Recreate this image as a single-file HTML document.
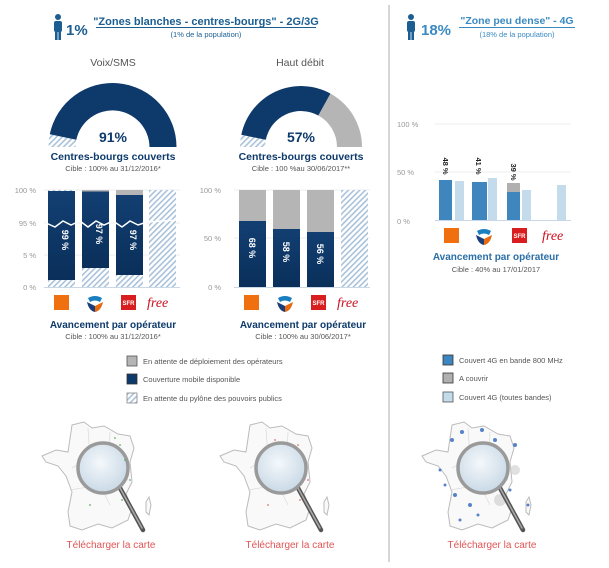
<!DOCTYPE html>
<html><head><meta charset="utf-8"><style>
html,body{margin:0;padding:0;background:#fff;}
svg{display:block;font-family:"Liberation Sans",sans-serif;}
</style></head><body>
<svg width="609" height="568" viewBox="0 0 609 568" xmlns="http://www.w3.org/2000/svg">
<defs>
<pattern id="h" width="4" height="4" patternUnits="userSpaceOnUse" patternTransform="rotate(45)">
<rect width="4" height="4" fill="#fff"/><rect width="1.6" height="4" fill="#a9c2da"/>
</pattern>
<linearGradient id="db" x1="0" y1="0" x2="0" y2="1"><stop offset="0" stop-color="#123f72"/><stop offset="1" stop-color="#0a2f5a"/></linearGradient>
<radialGradient id="lens" cx="0.45" cy="0.4" r="0.6"><stop offset="0" stop-color="#f4f8fb"/><stop offset="1" stop-color="#c9d9e6"/></radialGradient>
</defs>

<line x1="389" y1="5" x2="389" y2="562" stroke="#c8c8c8" stroke-width="1.5"/>

<g fill="#1a5e92">
<circle cx="58" cy="17" r="3"/><rect x="54" y="21" width="8" height="11" rx="2"/><rect x="55" y="30" width="2.6" height="10"/><rect x="58.4" y="30" width="2.6" height="10"/>
<circle cx="411" cy="17" r="3"/><rect x="407" y="21" width="8" height="11" rx="2"/><rect x="408" y="30" width="2.6" height="10"/><rect x="411.4" y="30" width="2.6" height="10"/>
</g>
<text x="66" y="35" font-size="15" font-weight="bold" fill="#1a5e92">1%</text>
<text x="206" y="25" font-size="11" font-weight="bold" fill="#1a5e92" text-anchor="middle">"Zones blanches - centres-bourgs" - 2G/3G</text>
<line x1="96" y1="27.5" x2="316" y2="27.5" stroke="#1a5e92" stroke-width="1"/>
<text x="206" y="37" font-size="7.5" fill="#1a5e92" text-anchor="middle">(1% de la population)</text>

<text x="421" y="35" font-size="15" font-weight="bold" fill="#3a8ac2">18%</text>
<text x="517" y="24" font-size="10.5" font-weight="bold" fill="#3a8ac2" text-anchor="middle">"Zone peu dense" - 4G</text>
<line x1="459" y1="27.5" x2="575" y2="27.5" stroke="#3a8ac2" stroke-width="1"/>
<text x="517" y="37" font-size="7.5" fill="#3a8ac2" text-anchor="middle">(18% de la population)</text>

<text x="113" y="66" font-size="10.5" fill="#555" text-anchor="middle">Voix/SMS</text>
<text x="300" y="66" font-size="10.5" fill="#555" text-anchor="middle">Haut débit</text>

<path d="M48.5 147 A64 64 0 0 1 49.8 134.2 L76.3 139.8 A37 37 0 0 0 75.5 147 Z" fill="url(#h)"/>
<path d="M49.8 134.2 A64 64 0 0 1 176.5 147 L149.5 147 A37 37 0 0 0 76.3 139.8 Z" fill="#0d3a6b"/>
<text x="113" y="142" font-size="14" font-weight="bold" fill="#0d3a6b" text-anchor="middle">91%</text>
<text x="113" y="160" font-size="10.5" font-weight="bold" fill="#0d3a6b" text-anchor="middle">Centres-bourgs couverts</text>
<text x="113" y="171" font-size="7.5" fill="#555" text-anchor="middle">Cible : 100% au 31/12/2016*</text>

<path d="M240 147 A61 61 0 0 1 241.3 134.8 L265.8 139.8 A36 36 0 0 0 265 147 Z" fill="url(#h)"/>
<path d="M241.3 134.8 A61 61 0 0 1 330.5 93.6 L318.4 115.5 A36 36 0 0 0 265.8 139.8 Z" fill="#0d3a6b"/>
<path d="M330.5 93.6 A61 61 0 0 1 362 147 L337 147 A36 36 0 0 0 318.4 115.5 Z" fill="#b5b5b5"/>
<text x="301" y="142" font-size="14" font-weight="bold" fill="#0d3a6b" text-anchor="middle">57%</text>
<text x="301" y="160" font-size="10.5" font-weight="bold" fill="#0d3a6b" text-anchor="middle">Centres-bourgs couverts</text>
<text x="301" y="171" font-size="7.5" fill="#555" text-anchor="middle">Cible : 100 %au 30/06/2017**</text>

<g font-size="7.5" fill="#999" text-anchor="end">
<text x="36" y="193">100 %</text><text x="36" y="226">95 %</text><text x="36" y="258">5 %</text><text x="36" y="290">0 %</text>
</g>
<g stroke="#eee"><line x1="44" y1="190" x2="180" y2="190"/><line x1="44" y1="223" x2="180" y2="223"/><line x1="44" y1="255" x2="180" y2="255"/></g>
<rect x="48" y="190" width="27" height="97" fill="url(#h)"/><rect x="48" y="191" width="27" height="89" fill="url(#db)"/>
<rect x="82" y="190" width="27" height="97" fill="url(#h)"/><rect x="82" y="190" width="27" height="1.5" fill="#b5b5b5"/><rect x="82" y="191.5" width="27" height="76.5" fill="url(#db)"/>
<rect x="116" y="190" width="27" height="97" fill="url(#h)"/><rect x="116" y="190" width="27" height="5" fill="#b5b5b5"/><rect x="116" y="195" width="27" height="80" fill="url(#db)"/>
<rect x="149" y="190" width="27" height="97" fill="url(#h)"/>
<polyline points="46,223 55,227 63,221 71,225 80,221 88,227 96,221 104,225 113,221 122,227 130,221 138,225 147,222 178,220" fill="none" stroke="#fff" stroke-width="1.5"/>
<g font-size="9" font-weight="bold" fill="#fff" text-anchor="middle">
<text transform="translate(62,240) rotate(90)">99 %</text>
<text transform="translate(96,234) rotate(90)">97 %</text>
<text transform="translate(130,240) rotate(90)">97 %</text>
</g>
<line x1="44" y1="287.5" x2="180" y2="287.5" stroke="#c9d8e6"/>

<g font-size="7.5" fill="#999" text-anchor="end">
<text x="221" y="193">100 %</text><text x="221" y="241">50 %</text><text x="221" y="290">0 %</text>
</g>
<g stroke="#eee"><line x1="234" y1="190" x2="370" y2="190"/><line x1="234" y1="238" x2="370" y2="238"/></g>
<rect x="239" y="190" width="27" height="97" fill="#b5b5b5"/><rect x="239" y="221" width="27" height="66" fill="url(#db)"/>
<rect x="273" y="190" width="27" height="97" fill="#b5b5b5"/><rect x="273" y="229" width="27" height="58" fill="url(#db)"/>
<rect x="307" y="190" width="27" height="97" fill="#b5b5b5"/><rect x="307" y="232" width="27" height="55" fill="url(#db)"/>
<rect x="341" y="190" width="27" height="97" fill="url(#h)"/>
<g font-size="9" font-weight="bold" fill="#fff" text-anchor="middle">
<text transform="translate(249,248) rotate(90)">68 %</text>
<text transform="translate(283,252) rotate(90)">58 %</text>
<text transform="translate(317,254) rotate(90)">56 %</text>
</g>
<line x1="234" y1="287.5" x2="370" y2="287.5" stroke="#c9d8e6"/>

<g id="logos">
<rect x="54" y="295" width="15" height="15" fill="#f07010"/>
<path d="M88 298 q7 -4 14 0 l-2 4 q-5 -3 -10 0z" fill="#1a7fc0"/><path d="M87 302 q2 9 8 10 l0-6z" fill="#1a3e7a"/><path d="M103 302 q-2 9 -8 10 l0-6z" fill="#e86a10"/>
<rect x="121" y="295" width="15" height="15" fill="#d81e1e"/><text x="128.5" y="305" font-size="6" font-weight="bold" fill="#fff" text-anchor="middle">SFR</text>
<text x="147" y="307" font-size="14" font-style="italic" fill="#cc1020" font-family="Liberation Serif,serif">free</text>
</g>
<use href="#logos" transform="translate(190,0)"/>
<text x="113" y="328" font-size="10" font-weight="bold" fill="#0d3a6b" text-anchor="middle">Avancement par opérateur</text>
<text x="113" y="339" font-size="7.5" fill="#555" text-anchor="middle">Cible : 100% au 31/12/2016*</text>
<text x="303" y="328" font-size="10" font-weight="bold" fill="#0d3a6b" text-anchor="middle">Avancement par opérateur</text>
<text x="303" y="339" font-size="7.5" fill="#555" text-anchor="middle">Cible : 100% au 30/06/2017*</text>

<rect x="127" y="356" width="10" height="10" fill="#b5b5b5" stroke="#555" stroke-width="0.8"/>
<rect x="127" y="374" width="10" height="10" fill="#0d3a6b" stroke="#333" stroke-width="0.8"/>
<rect x="127" y="393" width="10" height="10" fill="url(#h)" stroke="#888" stroke-width="0.8"/>
<g font-size="7.5" fill="#555">
<text x="143" y="364">En attente de déploiement des opérateurs</text>
<text x="143" y="382">Couverture mobile disponible</text>
<text x="143" y="401">En attente du pylône des pouvoirs publics</text>
</g>

<g font-size="7.5" fill="#999">
<text x="397" y="127">100 %</text><text x="397" y="175">50 %</text><text x="397" y="224">0 %</text>
</g>
<g stroke="#eee"><line x1="435" y1="124" x2="571" y2="124"/><line x1="435" y1="172" x2="571" y2="172"/></g>
<rect x="439" y="180" width="13" height="40" fill="#3f86bf"/><rect x="455" y="181" width="9" height="39" fill="#c4dbec"/>
<rect x="472" y="182" width="15" height="38" fill="#3f86bf"/><rect x="488" y="178" width="9" height="42" fill="#c4dbec"/>
<rect x="507" y="183" width="13" height="9" fill="#b0b0b0"/><rect x="507" y="192" width="13" height="28" fill="#3f86bf"/><rect x="522" y="190" width="9" height="30" fill="#c4dbec"/>
<rect x="557" y="185" width="9" height="35" fill="#c4dbec"/>
<g font-size="7.5" font-weight="bold" fill="#222" text-anchor="middle">
<text transform="translate(443,166) rotate(90)">48 %</text>
<text transform="translate(476,166) rotate(90)">41 %</text>
<text transform="translate(511,172) rotate(90)">39 %</text>
</g>
<line x1="435" y1="220.5" x2="571" y2="220.5" stroke="#c9d8e6"/>
<rect x="444" y="228" width="15" height="15" fill="#f07010"/>
<path d="M477 231 q7 -4 14 0 l-2 4 q-5 -3 -10 0z" fill="#1a7fc0"/><path d="M476 235 q2 9 8 10 l0-6z" fill="#1a3e7a"/><path d="M492 235 q-2 9 -8 10 l0-6z" fill="#e86a10"/>
<rect x="512" y="228" width="15" height="15" fill="#d81e1e"/><text x="519.5" y="238" font-size="6" font-weight="bold" fill="#fff" text-anchor="middle">SFR</text>
<text x="542" y="240" font-size="14" font-style="italic" fill="#cc1020" font-family="Liberation Serif,serif">free</text>
<text x="496" y="260" font-size="10" font-weight="bold" fill="#2a6ea6" text-anchor="middle">Avancement par opérateur</text>
<text x="496" y="272" font-size="7.5" fill="#555" text-anchor="middle">Cible : 40% au 17/01/2017</text>

<rect x="443" y="355" width="10" height="10" fill="#3f86bf" stroke="#333" stroke-width="0.8"/>
<rect x="443" y="373" width="10" height="10" fill="#b0b0b0" stroke="#333" stroke-width="0.8"/>
<rect x="443" y="392" width="10" height="10" fill="#c4dbec" stroke="#555" stroke-width="0.8"/>
<g font-size="7.5" fill="#555">
<text x="459" y="363">Couvert 4G en bande 800 MHz</text>
<text x="459" y="381">A couvrir</text>
<text x="459" y="400">Couvert 4G (toutes bandes)</text>
</g>

<!-- maps -->
<g id="mapbase">
<path d="M72 425 l12 -3 l8 6 l12 -2 l14 8 l12 2 l4 12 l-4 14 l2 20 l-6 12 l6 14 l-4 12 l-16 8 l-14 -4 l-16 6 l-12 -4 l-2 -14 l4 -20 l-6 -16 l-8 -10 l-12 -4 l-4 -6 l14 -6 l12 2 z" fill="#f9f9f9" stroke="#bbb" stroke-width="1"/>
<path d="M146 502 l3 -5 l2 8 l-2 10 l-3 -3 z" fill="#f9f9f9" stroke="#bbb"/>
<path d="M88 428 l2 30 l-18 10 M110 432 l-2 40 l20 8 M70 490 l30 -5 l10 20" fill="none" stroke="#ddd" stroke-width="0.8"/>
</g>
<g id="lensg">
<line x1="120" y1="488" x2="143" y2="530" stroke="#555" stroke-width="4.5" stroke-linecap="round"/>
<line x1="120" y1="488" x2="142" y2="528" stroke="#aaa" stroke-width="1.5" stroke-linecap="round"/>
<circle cx="103" cy="468" r="25" fill="url(#lens)" stroke="#9a9a9a" stroke-width="3.5"/>
</g>
<g fill="#5aa65a" opacity="0.7"><circle cx="120" cy="445" r="1"/><circle cx="125" cy="460" r="1"/><circle cx="122" cy="500" r="1"/><circle cx="90" cy="505" r="1"/><circle cx="130" cy="480" r="1"/><circle cx="115" cy="438" r="1"/></g>
<use href="#mapbase" transform="translate(178,0)"/>
<g fill="#d66" opacity="0.7"><circle cx="298" cy="445" r="1"/><circle cx="303" cy="460" r="1"/><circle cx="300" cy="500" r="1"/><circle cx="268" cy="505" r="1"/><circle cx="308" cy="480" r="1"/><circle cx="275" cy="440" r="1"/></g>
<use href="#lensg" transform="translate(178,0)"/>
<use href="#mapbase" transform="translate(380,0)"/>
<g fill="#3a6fc0" opacity="0.85">
<circle cx="452" cy="440" r="2"/><circle cx="462" cy="432" r="2"/><circle cx="470" cy="450" r="1.5"/><circle cx="495" cy="440" r="2"/><circle cx="505" cy="460" r="1.5"/><circle cx="455" cy="495" r="2"/><circle cx="470" cy="505" r="2"/><circle cx="510" cy="490" r="1.5"/><circle cx="440" cy="470" r="1.5"/><circle cx="482" cy="430" r="2"/><circle cx="445" cy="485" r="1.5"/><circle cx="478" cy="515" r="1.5"/><circle cx="515" cy="445" r="2"/><circle cx="528" cy="505" r="1.5"/><circle cx="460" cy="520" r="1.5"/>
</g>
<g fill="#ccc" opacity="0.6"><circle cx="500" cy="500" r="6"/><circle cx="515" cy="470" r="5"/><circle cx="470" cy="480" r="5"/></g>
<use href="#lensg" transform="translate(380,0)"/>
<g font-size="10" fill="#e05555" text-anchor="middle">
<text x="111" y="548">Télécharger la carte</text>
<text x="290" y="548">Télécharger la carte</text>
<text x="492" y="548">Télécharger la carte</text>
</g>
</svg>
</body></html>
